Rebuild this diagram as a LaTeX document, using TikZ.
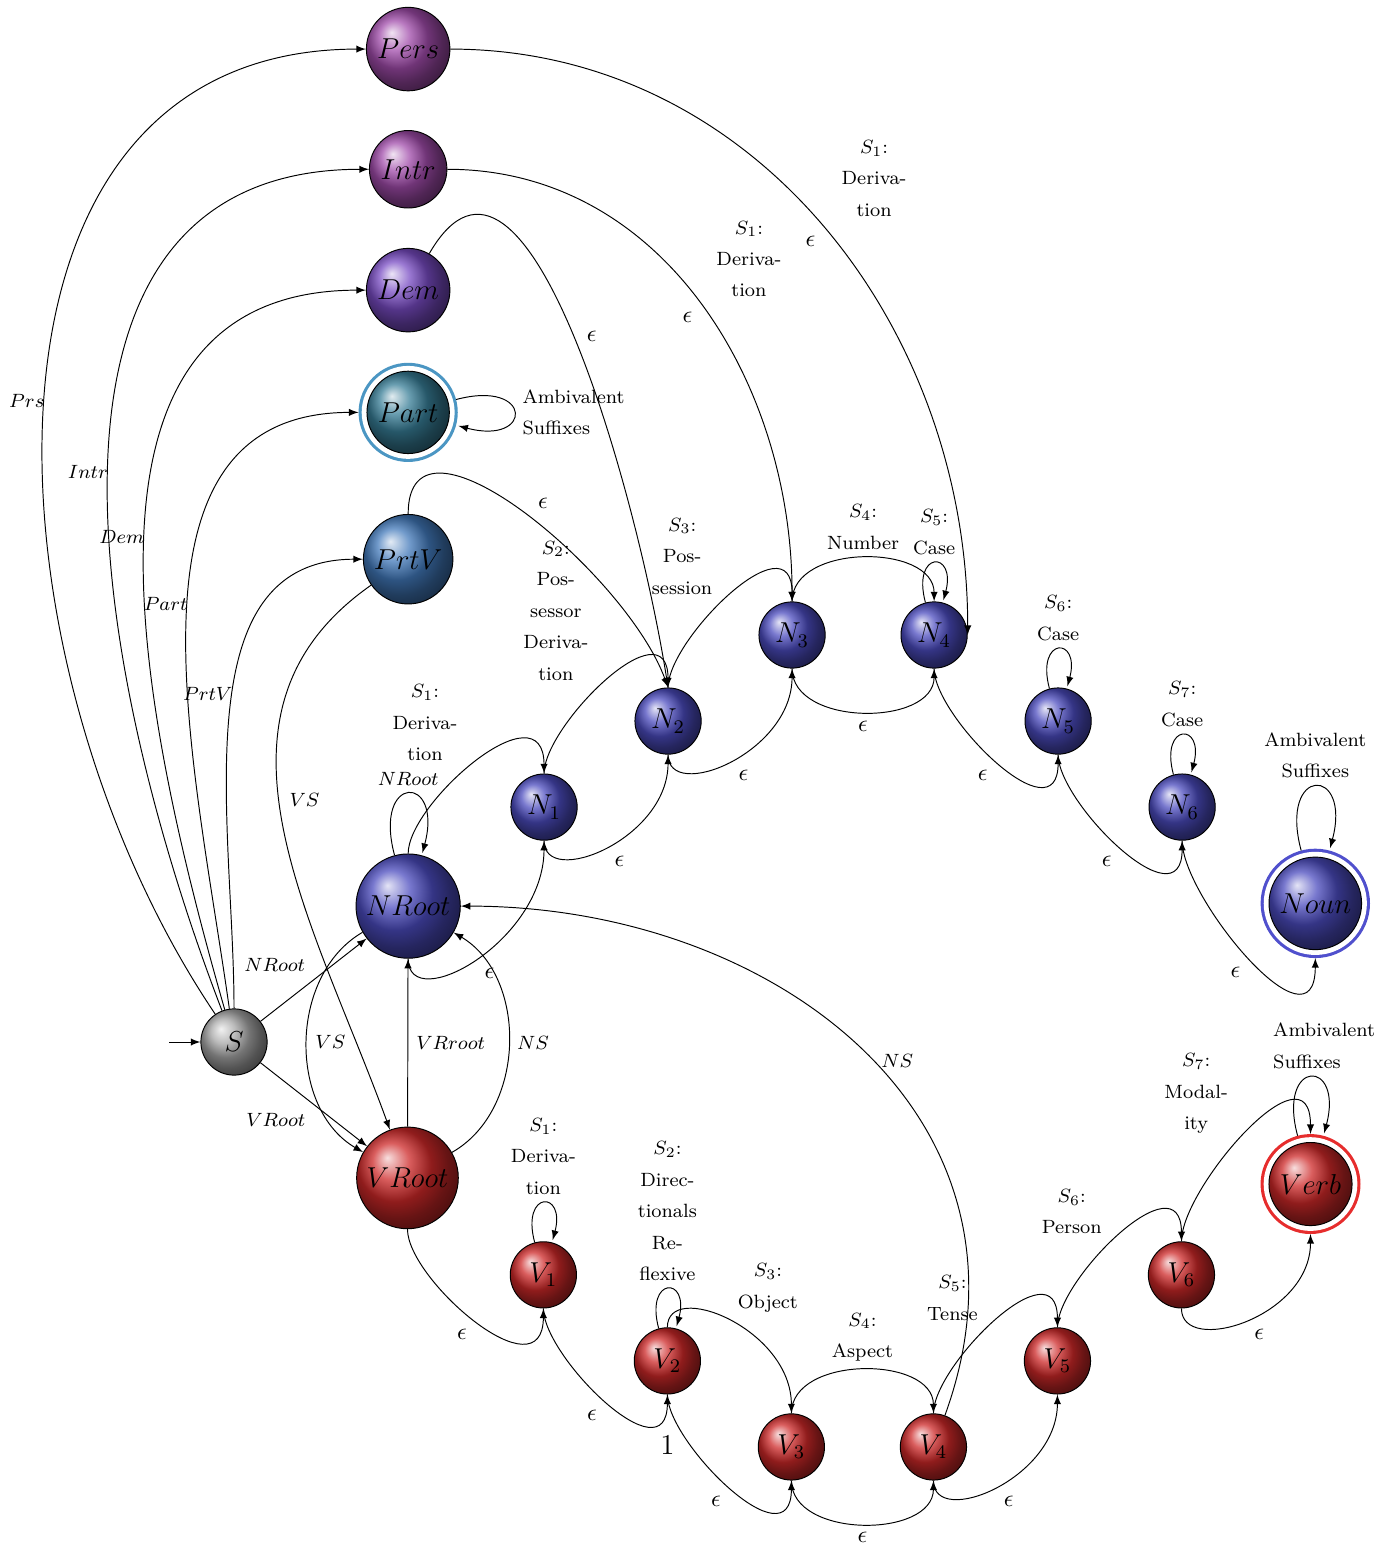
\documentclass[tikz,border=0pt]{standalone}
\usepackage{amsmath}
\usepackage{amssymb}
\usepackage[usenames,dvipsnames]{xcolor}
\usetikzlibrary{positioning, automata}

\definecolor{persball}{RGB}{160,75,170}
\definecolor{demball}{RGB}{120,75,195}
\definecolor{partball}{RGB}{55,125,150}
\definecolor{prtvball}{RGB}{65,120,185}
\definecolor{nounball}{RGB}{75,75,190}
\definecolor{verbball}{RGB}{205,40,40}
\definecolor{partring}{RGB}{75,150,195}
\definecolor{nounring}{RGB}{80,80,205}
\definecolor{verbring}{RGB}{230,45,45}

\begin{document}
\begin{tikzpicture}[>=latex, auto, node distance=1.26cm and 1.816cm,
  main node/.style={circle,draw,on grid,font=\large,inner sep=3pt,minimum size=0.97cm},
  noun node/.style={main node,ball color=nounball},
  verb node/.style={main node,ball color=verbball},
  acceptring/.style={outer sep=3.5pt,preaction={draw=#1,line width=7pt},
    preaction={draw=white,line width=4.4pt}},
  eps/.style={font=\normalsize},
  diag/.style={out looseness=0.82,in looseness=1.44},
  flat/.style={looseness=1.05}]

\useasboundingbox (-3.427,-7.395) rectangle (17.016,15.259);

\node[main node, ball color=gray!70, initial, initial text={}] (S) {$S$};
\node[noun node] (NRoot) [above right=1.99cm and 2.55cm of S] {$NRoot$};
\node[verb node] (VRoot) [below right=1.99cm and 2.54cm of S] {$VRoot$};
\node[main node, ball color=prtvball] (PrtV) [above=5.08cm of NRoot] {$PrtV$};
\node[main node, ball color=partball, acceptring=partring] (Part) [above=2.15cm of PrtV] {$Part$};
\node[main node, ball color=demball] (Dem) [above=1.79cm of Part] {$Dem$};
\node[main node, ball color=persball] (Intr) [above=1.77cm of Dem] {$Intr$};
\node[main node, ball color=persball] (Pers) [above=1.76cm of Intr] {$Pers$};

\node[noun node] (N1) [above right=1.45cm and 1.99cm of NRoot] {$N_1$};
\node[noun node] (N2) [above right=of N1] {$N_2$};
\node[noun node] (N3) [above right=of N2] {$N_3$};
\node[noun node] (N4) [right=2.08cm of N3] {$N_4$};
\node[noun node] (N5) [below right=of N4] {$N_5$};
\node[noun node] (N6) [below right=of N5] {$N_6$};
\node[noun node, acceptring=nounring] (Noun) [below right=1.41cm and 1.95cm of N6] {$Noun$};

\node[verb node] (V1) [below right=1.42cm and 1.99cm of VRoot] {$V_1$};
\node[verb node, label={[font=\large, label distance=0.48cm]below:1}] (V2) [below right=of V1] {$V_2$};
\node[verb node] (V3) [below right=of V2] {$V_3$};
\node[verb node] (V4) [right=2.08cm of V3] {$V_4$};
\node[verb node] (V5) [above right=of V4] {$V_5$};
\node[verb node] (V6) [above right=of V5] {$V_6$};
\node[verb node, acceptring=verbring] (Verb) [above right=1.33cm and 1.89cm of V6] {$Verb$};

\path[->, every node/.style={font=\linespread{1.38}\footnotesize, align=center}]
(S) edge[out=124, in=180, looseness=1.1] node[left, inner sep=0pt] {$Prs$} (Pers)
(S) edge[out=111, in=180, looseness=1.1] node[pos=0.49, left, inner sep=0pt] {$Intr$} (Intr)
(S) edge[out=106, in=180, looseness=1.1] node[left, inner sep=0pt] {$Dem$} (Dem)
(S) edge[out=98, in=180, looseness=1.05] node[pos=0.52, left, inner sep=0pt] {$Part$} (Part)
(S) edge[out=90, in=180] node[pos=0.54, left, inner sep=0pt] {$PrtV$} (PrtV)
(S) edge node {$NRoot$} (NRoot)
(S) edge node[swap] {$VRoot$} (VRoot)
(Pers) edge[out=0, in=90] node[eps, swap] {$\epsilon$}
       node[pos=0.42, right=0.82cm] {$S_1$:\\Deriva-\\tion} (N4.east)
(Intr) edge[out=0, in=90] node[eps, swap] {$\epsilon$}
       node[pos=0.4, right=0.67cm] {$S_1$:\\Deriva-\\tion} (N3.north)
(Dem) edge[out=60, in=99] node[eps, pos=0.5, right=2pt] {$\epsilon$} (N2.north)
(PrtV) edge[out=90, in=110] node[eps, pos=0.52, above right] {$\epsilon$} (N2.north)
(Part) edge[loop right] node[align=left] {Ambivalent\\Suffixes} ()
(PrtV) edge[out=215, in=110, looseness=1.05] node[pos=0.48] {$VS$} (VRoot)
(NRoot) edge[bend right=60] node {$VS$} (VRoot)
(VRoot) edge node[swap] {$VRroot$} (NRoot)
(VRoot) edge[bend right=60] node[swap] {$NS$} (NRoot)
(V4) edge[out=70, in=0, looseness=1.15] node[pos=0.48, right] {$NS$} (NRoot)
(NRoot) edge[loop above] node {$NRoot$} ()
(NRoot) edge[out=90, in=90, diag] node[pos=0.45, above left] {$S_1$:\\Deriva-\\tion} (N1)
(N1) edge[out=90, in=90, diag] node[pos=0.45, above left] {$S_2$:\\Pos-\\sessor\\Deriva-\\tion} (N2)
(N2) edge[out=90, in=90, diag] node[pos=0.45, above left] {$S_3$:\\Pos-\\session} (N3)
(N3) edge[out=90, in=90, flat] node[above] {$S_4$:\\Number} (N4)
(N4) edge[loop above] node {$S_5$:\\Case} ()
(N5) edge[loop above] node {$S_6$:\\Case} ()
(N6) edge[loop above] node {$S_7$:\\Case} ()
(Noun) edge[loop above] node {Ambivalent\\Suffixes} ()
(NRoot) edge[out=-90, in=-90, diag] node[eps, below right] {$\epsilon$} (N1)
(N1) edge[out=-90, in=-90, diag] node[eps, below right] {$\epsilon$} (N2)
(N2) edge[out=-90, in=-90, diag] node[eps, below right] {$\epsilon$} (N3)
(N3) edge[out=-90, in=-90, flat] node[eps, below] {$\epsilon$} (N4)
(N4) edge[out=-90, in=-90, diag] node[eps, below left] {$\epsilon$} (N5)
(N5) edge[out=-90, in=-90, diag] node[eps, below left] {$\epsilon$} (N6)
(N6) edge[out=-90, in=-90, diag] node[eps, below left] {$\epsilon$} (Noun)
(VRoot) edge[out=-90, in=-90, diag] node[eps, below left] {$\epsilon$} (V1)
(V1) edge[loop above] node {$S_1$:\\Deriva-\\tion} ()
(V1) edge[out=-90, in=-90, diag] node[eps, below left] {$\epsilon$} (V2)
(V2) edge[loop above] node {$S_2$:\\Direc-\\tionals\\Re-\\flexive} ()
(V2) edge[out=90, in=90, diag] node[above right] {$S_3$:\\Object} (V3)
(V2) edge[out=-90, in=-90, diag] node[eps, below left] {$\epsilon$} (V3)
(V3) edge[out=90, in=90, flat] node[above] {$S_4$:\\Aspect} (V4)
(V3) edge[out=-90, in=-90, flat] node[eps, below] {$\epsilon$} (V4)
(V4) edge[out=90, in=90, diag] node[pos=0.45, above left] {$S_5$:\\Tense} (V5)
(V4) edge[out=-90, in=-90, diag] node[eps, below right] {$\epsilon$} (V5)
(V5) edge[out=90, in=90, diag] node[pos=0.45, above left] {$S_6$:\\Person} (V6)
(V6) edge[out=90, in=90, diag] node[pos=0.45, above left] {$S_7$:\\Modal-\\ity} (Verb)
(V6) edge[out=-90, in=-90, diag] node[eps, below right] {$\epsilon$} (Verb)
(Verb) edge[loop above] node[align=left, xshift=0.2cm] {Ambivalent\\Suffixes} ()
;
\end{tikzpicture}
\end{document}
